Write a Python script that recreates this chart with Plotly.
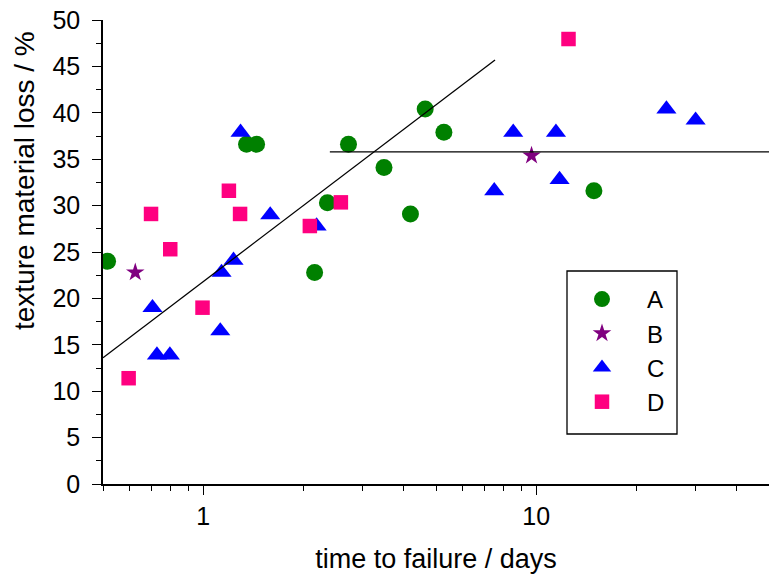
import math
import plotly.graph_objects as go

# ---- data ----
A_x = [0.516, 1.349, 1.446, 2.16, 2.36, 2.73, 3.49, 4.19, 4.64, 5.28, 14.9]
A_y = [24.0, 36.6, 36.6, 22.8, 30.3, 36.6, 34.1, 29.1, 40.4, 37.9, 31.6]
B_x = [0.625, 9.68]
B_y = [22.8, 35.4]
C_x = [0.704, 0.726, 0.794, 1.125, 1.135, 1.233, 1.294, 1.589, 2.19, 7.48, 8.53, 11.46, 11.75, 24.6, 30.1]
C_y = [19.0, 13.9, 13.9, 16.5, 22.8, 24.1, 37.9, 29.0, 27.8, 31.6, 37.9, 37.9, 32.8, 40.4, 39.2]
D_x = [0.597, 0.697, 0.796, 0.995, 1.194, 1.29, 2.09, 2.59, 12.5]
D_y = [11.4, 29.1, 25.3, 19.0, 31.6, 29.1, 27.8, 30.35, 47.95]

fit1_x = [0.5, 7.52]
fit1_y = [13.6, 45.7]
fit2_x = [2.4, 50]
fit2_y = [35.8, 35.8]

x_major = [1, 10]
x_minor = [0.5, 0.6, 0.7, 0.8, 0.9, 2, 3, 4, 5, 6, 7, 8, 9, 20, 30, 40, 50]
y_major = [0, 5, 10, 15, 20, 25, 30, 35, 40, 45, 50]

FONT = "Liberation Sans, Arial, sans-serif"

PW, PH = 666, 464  # plot area in px

fig = go.Figure()
series = [
    ("A", A_x, A_y, "circle", 17, "#008000"),
    ("B", B_x, B_y, "star", 14, "#800080"),
    ("C", C_x, C_y, "triangle-up", 17.5, "#0000FF"),
    ("D", D_x, D_y, "square", 14.5, "#FF0080"),
]
for name, xs, ys, sym, sz, col in series:
    fig.add_trace(go.Scatter(
        x=xs, y=ys, mode="markers", name=name,
        marker=dict(symbol=sym, size=sz, color=col, line=dict(width=0)),
    ))

for lx, ly in [(fit1_x, fit1_y), (fit2_x, fit2_y)]:
    fig.add_trace(go.Scatter(x=lx, y=ly, mode="lines", showlegend=False,
                             line=dict(color="black", width=1.3), hoverinfo="skip"))

# legend frame
fig.add_shape(type="rect", xref="paper", yref="paper",
              x0=(567 - 103) / PW, x1=(677 - 103) / PW,
              y0=(484 - 434) / PH, y1=(484 - 271) / PH,
              line=dict(color="black", width=1.3), fillcolor="rgba(0,0,0,0)")

fig.add_annotation(text="texture material loss / %", textangle=-90,
                   xref="paper", yref="paper",
                   x=(25 - 103) / PW, y=(484 - 181) / PH,
                   xanchor="center", yanchor="middle", showarrow=False,
                   font=dict(family=FONT, size=28))

fig.update_layout(
    width=769, height=574,
    margin=dict(l=103, r=0, t=20, b=90),
    paper_bgcolor="white", plot_bgcolor="white",
    font=dict(family=FONT, color="black", size=24),
    legend=dict(
        x=(557 - 103) / PW, y=(484 - 277) / PH, xanchor="left", yanchor="top",
        bgcolor="rgba(0,0,0,0)", borderwidth=0, itemwidth=80,
        font=dict(family=FONT, size=24),
    ),
    xaxis=dict(
        type="log", range=[math.log10(0.5), math.log10(50)],
        tickvals=x_major, ticktext=[str(v) for v in x_major],
        ticks="outside", ticklen=9, tickwidth=1.3, tickcolor="black",
        showline=True, linecolor="black", linewidth=1.5,
        showgrid=False, zeroline=False,
        tickfont=dict(family=FONT, size=25),
        minor=dict(tickvals=x_minor, ticks="outside", ticklen=5, tickwidth=1.3,
                   tickcolor="black", showgrid=False),
        title=dict(text="time to failure / days", font=dict(family=FONT, size=27), standoff=22),
        automargin=False,
    ),
    yaxis=dict(
        range=[0, 50],
        tickvals=y_major, ticktext=[str(v) for v in y_major],
        ticks="outside", ticklen=9, tickwidth=1.3, tickcolor="black",
        showline=True, linecolor="black", linewidth=1.5,
        showgrid=False, zeroline=False,
        tickfont=dict(family=FONT, size=25), ticklabelstandoff=7,
        ticklabeloverflow="allow",
        minor=dict(dtick=2.5, ticks="outside", ticklen=5, tickwidth=1.3,
                   tickcolor="black", showgrid=False),
        automargin=False,
    ),
)

# remove the browser's default 8px body margin so the 769x574 figure fills the window
fig.write_html("out.html", config={"displayModeBar": False},
               post_script="document.body.style.margin='0px';")
